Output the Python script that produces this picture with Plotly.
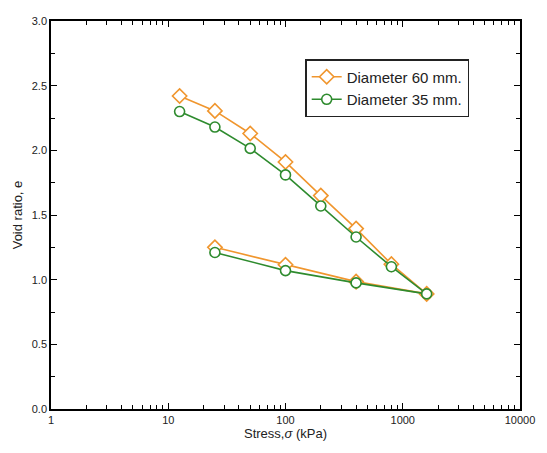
import plotly.graph_objects as go

stress = [12.5, 25, 50, 100, 200, 400, 800, 1600, 400, 100, 25]
e_60 = [2.42, 2.305, 2.13, 1.91, 1.65, 1.395, 1.12, 0.89, 0.985, 1.115, 1.25]
e_35 = [2.30, 2.18, 2.015, 1.81, 1.57, 1.33, 1.10, 0.89, 0.975, 1.07, 1.21]
x_tickvals = [1, 10, 100, 1000, 10000]
x_ticktext = ["1", "10", "100", "1000", "10000"]
y_tickvals = [0, 0.5, 1.0, 1.5, 2.0, 2.5, 3.0]
y_ticktext = ["0.0", "0.5", "1.0", "1.5", "2.0", "2.5", "3.0"]
x_minor = [m * d for d in (1, 10, 100, 1000) for m in range(2, 10)]
y_minor = [0.25, 0.75, 1.25, 1.75, 2.25, 2.75]

orange = "#F0962E"
green = "#2E8B2E"
FONT = "Liberation Sans, Arial"

fig = go.Figure()
fig.add_trace(go.Scatter(
    x=stress, y=e_60, mode="lines+markers", name="Diameter 60 mm.",
    line=dict(color=orange, width=1.6),
    marker=dict(symbol="diamond", size=11, color="white", line=dict(color=orange, width=1.6)),
))
fig.add_trace(go.Scatter(
    x=stress, y=e_35, mode="lines+markers", name="Diameter 35 mm.",
    line=dict(color=green, width=1.6),
    marker=dict(symbol="circle", size=10, color="white", line=dict(color=green, width=1.6)),
))
# empty helper trace so the minor-tick overlay axes are drawn
fig.add_trace(go.Scatter(x=[None], y=[None], xaxis="x2", yaxis="y2",
                         showlegend=False, hoverinfo="skip"))

axis_common = dict(
    showline=True, linecolor="black", linewidth=1.5, mirror="allticks",
    ticks="inside", tickcolor="black", ticklen=6, tickwidth=1.2,
    showgrid=False, zeroline=False,
    tickfont=dict(family=FONT, size=11, color="#222"),
)

fig.update_layout(
    xaxis=dict(
        type="log", range=[0, 4], tickmode="array", tickvals=x_tickvals, ticktext=x_ticktext,
        title=dict(text="Stress,<i>σ</i> (kPa)", font=dict(family=FONT, size=13, color="#222"), standoff=3),
        **axis_common,
    ),
    yaxis=dict(
        range=[0, 3.0], tickmode="array", tickvals=y_tickvals, ticktext=y_ticktext,
        title=dict(text="Void ratio, e", font=dict(family=FONT, size=13, color="#222"), standoff=6),
        **axis_common,
    ),
    xaxis2=dict(
        type="log", range=[0, 4], overlaying="x", anchor="y2", side="bottom",
        tickmode="array", tickvals=x_minor, showticklabels=False,
        ticks="inside", ticklen=4, tickwidth=1.2, tickcolor="black", mirror="allticks",
        showline=False, showgrid=False, zeroline=False,
    ),
    yaxis2=dict(
        range=[0, 3.0], overlaying="y", anchor="x2", side="left",
        tickmode="array", tickvals=y_minor, showticklabels=False,
        ticks="inside", ticklen=4, tickwidth=1.2, tickcolor="black", mirror="allticks",
        showline=False, showgrid=False, zeroline=False,
    ),
    width=547, height=453,
    margin=dict(l=51, r=19, t=21, b=44),
    paper_bgcolor="white", plot_bgcolor="white",
    showlegend=True,
    legend=dict(
        x=0.542, y=0.902, xanchor="left", yanchor="top",
        bordercolor="#222", borderwidth=1.5, bgcolor="white",
        font=dict(family=FONT, size=15, color="#222"),
        tracegroupgap=0,
    ),
)

fig.write_html("out.html")
